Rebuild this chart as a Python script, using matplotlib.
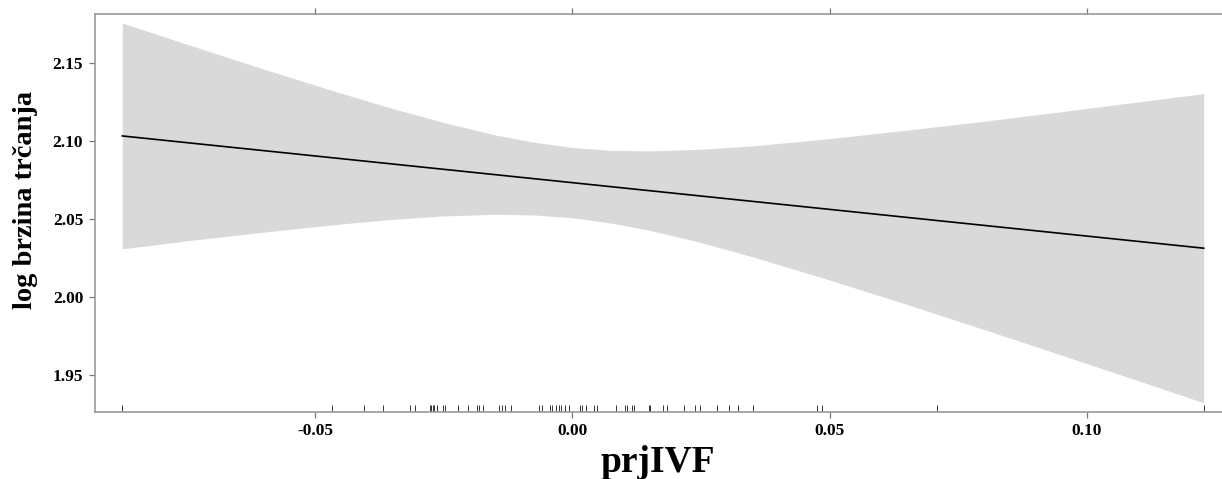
import matplotlib
matplotlib.use("Agg")
import matplotlib.pyplot as plt

# Data
x_band = [-0.0875, -0.075, -0.06, -0.045, -0.035, -0.025, -0.015, -0.0075, 0.0,
          0.0075, 0.015, 0.025, 0.035, 0.05, 0.065, 0.08, 0.095, 0.11, 0.1227]
upper = [2.1754, 2.1619, 2.1459, 2.1305, 2.1207, 2.1117, 2.1037, 2.0991, 2.0957,
         2.0939, 2.0935, 2.0946, 2.0967, 2.1014, 2.1068, 2.1125, 2.1186, 2.1249, 2.1302]
lower = [2.0308, 2.0359, 2.0415, 2.0467, 2.0497, 2.0519, 2.0529, 2.0525, 2.0507,
         2.0473, 2.0427, 2.0348, 2.0257, 2.0108, 1.9952, 1.9791, 1.9628, 1.9463, 1.9322]
fit_x = [-0.0875, 0.1227]
fit_y = [2.1031, 2.0312]
rug_x = [-0.08753, -0.04670, -0.04048, -0.03679, -0.03154, -0.03056, -0.02774, -0.02745,
         -0.02716, -0.02687, -0.02629, -0.02522, -0.02483, -0.02220, -0.02036, -0.01851,
         -0.01822, -0.01744, -0.01423, -0.01375, -0.01307, -0.01196, -0.00655, -0.00587,
         -0.00432, -0.00397, -0.00315, -0.00266, -0.00218, -0.00150, -0.00062, 0.00152,
         0.00191, 0.00268, 0.00414, 0.00482, 0.00842, 0.01027, 0.01062, 0.01153, 0.01202,
         0.01480, 0.01513, 0.01760, 0.01833, 0.02164, 0.02382, 0.02479, 0.02811, 0.03035,
         0.03210, 0.03504, 0.04760, 0.04847, 0.07093, 0.12274]
xticks = [-0.05, 0.00, 0.05, 0.10]
xtick_labels = ["-0.05", "0.00", "0.05", "0.10"]
yticks = [1.95, 2.00, 2.05, 2.10, 2.15]
ytick_labels = ["1.95", "2.00", "2.05", "2.10", "2.15"]

W, H = 1222, 479
fig = plt.figure(figsize=(W / 100, H / 100), dpi=100)
ax = fig.add_axes([95 / W, (H - 412) / H, (1230 - 95) / W, (412 - 14) / H])

ax.fill_between(x_band, lower, upper, color="#d9d9d9", linewidth=0, zorder=1)
ax.plot(fit_x, fit_y, color="black", linewidth=1.2, zorder=3)
ax.vlines(rug_x, 0, 0.018, transform=ax.get_xaxis_transform(), color="#333333",
          linewidth=0.7, zorder=2)

ax.set_xlim(-0.0928, 0.1278)
ax.set_ylim(1.9263, 2.1812)

serif = ["Liberation Serif", "DejaVu Serif"]
ax.set_xticks(xticks)
ax.set_xticklabels(xtick_labels, fontfamily=serif, fontweight="bold", fontsize=12.5)
ax.set_yticks(yticks)
ax.set_yticklabels(ytick_labels, fontfamily=serif, fontweight="bold", fontsize=12.5)
ax.tick_params(axis="both", direction="out", length=4, width=0.9, color="#777777",
               pad=4.5, labelcolor="black")
ax.tick_params(axis="x", top=True, labeltop=False, pad=4)

for s in ax.spines.values():
    s.set_color("#999999")
    s.set_linewidth(1.2)

ax.set_xlabel("prjIVF", fontfamily=serif, fontweight="bold", fontsize=27)
ax.xaxis.set_label_coords(0.4956, -0.082)
ax.set_ylabel("log brzina trčanja", fontfamily=serif, fontweight="bold", fontsize=20.5)
ax.yaxis.set_label_coords(-0.050, 0.5327)

fig.savefig("out.png", dpi=100)
